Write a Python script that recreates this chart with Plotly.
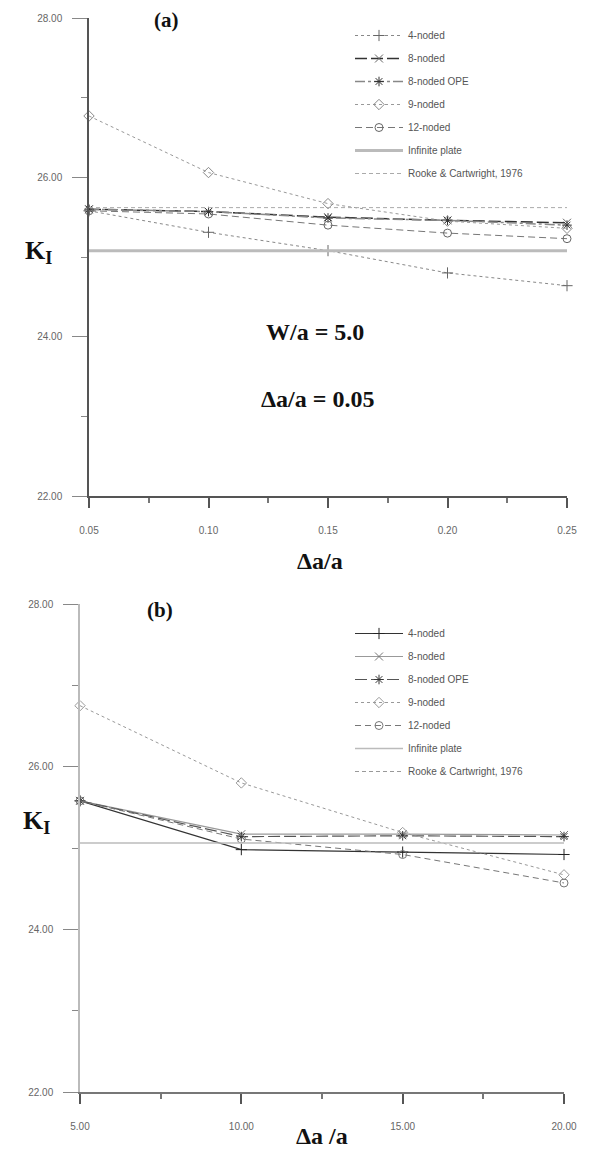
import plotly.graph_objects as go

W, H = 589, 1162

names = ["4-noded", "8-noded", "8-noded OPE", "9-noded", "12-noded",
         "Infinite plate", "Rooke & Cartwright, 1976"]

# ---- panel (a) ----
xa = [0.05, 0.10, 0.15, 0.20, 0.25]
a_4 = [25.58, 25.31, 25.08, 24.80, 24.64]
a_8 = [25.60, 25.57, 25.50, 25.46, 25.43]
a_8ope = [25.60, 25.57, 25.49, 25.46, 25.40]
a_9 = [26.77, 26.06, 25.67, 25.45, 25.36]
a_12 = [25.58, 25.54, 25.40, 25.30, 25.23]
a_inf = [25.08, 25.08]
a_rooke = [25.62, 25.62]
xa_ends = [0.05, 0.25]
xa_ticks = [0.05, 0.10, 0.15, 0.20, 0.25]
xa_ticktext = ["0.05", "0.10", "0.15", "0.20", "0.25"]

# ---- panel (b) ----
xb = [5, 10, 15, 20]
b_4 = [25.58, 24.98, 24.95, 24.92]
b_8 = [25.58, 25.17, 25.17, 25.16]
b_8ope = [25.58, 25.14, 25.15, 25.14]
b_9 = [26.75, 25.80, 25.19, 24.67]
b_12 = [25.58, 25.11, 24.92, 24.57]
b_inf = [25.06, 25.06]
b_rooke = [None, None]
xb_ends = [5, 20]
xb_ticks = [5, 10, 15, 20]
xb_ticktext = ["5.00", "10.00", "15.00", "20.00"]

y_ticks = [22, 24, 26, 28]
y_ticktext = ["22.00", "24.00", "26.00", "28.00"]


def px(x):
    return x / W


def py(y):
    return 1 - y / H


fig = go.Figure()

styles_a = [
    dict(color="#888", dash="3px,3px", width=1, symbol="cross-thin-open", mc="#666"),
    dict(color="#333", dash="12px,4px", width=1.5, symbol="x-thin-open", mc="#666"),
    dict(color="#888", dash="10px,3px,3px,3px", width=1.5, symbol="asterisk-open", mc="#333"),
    dict(color="#999", dash="3px,3px", width=1, symbol="diamond-open", mc="#888"),
    dict(color="#777", dash="7px,4px", width=1, symbol="circle-open", mc="#666"),
]
styles_b = [
    dict(color="#333", dash="solid", width=1.2, symbol="cross-thin-open", mc="#222"),
    dict(color="#999", dash="solid", width=1.2, symbol="x-thin-open", mc="#777"),
    dict(color="#555", dash="12px,4px", width=1.2, symbol="asterisk-open", mc="#333"),
    dict(color="#999", dash="3px,3px", width=1, symbol="diamond-open", mc="#999"),
    dict(color="#777", dash="6px,4px", width=1, symbol="circle-open", mc="#777"),
]

for i, ys in enumerate([a_4, a_8, a_8ope, a_9, a_12]):
    s = styles_a[i]
    fig.add_trace(go.Scatter(
        x=xa, y=ys, name=names[i], mode="lines+markers", cliponaxis=False,
        legendgroup="a%d" % i,
        line=dict(color=s["color"], dash=s["dash"], width=s["width"]),
        marker=dict(symbol=s["symbol"], size=8, color=s["mc"],
                    line=dict(color=s["mc"], width=1)),
        xaxis="x", yaxis="y", legend="legend"))
fig.add_trace(go.Scatter(x=xa_ends, y=a_inf, name=names[5], mode="lines",
                         legendgroup="a5",
                         line=dict(color="#bbb", width=3),
                         xaxis="x", yaxis="y", legend="legend"))
fig.add_trace(go.Scatter(x=xa_ends, y=a_rooke, name=names[6], mode="lines",
                         legendgroup="a6",
                         line=dict(color="#aaa", width=1, dash="4px,3px"),
                         xaxis="x", yaxis="y", legend="legend"))

for i, ys in enumerate([b_4, b_8, b_8ope, b_9, b_12]):
    s = styles_b[i]
    fig.add_trace(go.Scatter(
        x=xb, y=ys, name=names[i], mode="lines+markers", cliponaxis=False,
        legendgroup="b%d" % i,
        line=dict(color=s["color"], dash=s["dash"], width=s["width"]),
        marker=dict(symbol=s["symbol"], size=8, color=s["mc"],
                    line=dict(color=s["mc"], width=1)),
        xaxis="x2", yaxis="y2", legend="legend2"))
fig.add_trace(go.Scatter(x=xb_ends, y=b_inf, name=names[5], mode="lines",
                         legendgroup="b5",
                         line=dict(color="#bbb", width=1.5),
                         xaxis="x2", yaxis="y2", legend="legend2"))
fig.add_trace(go.Scatter(x=xb_ends, y=b_rooke, name=names[6], mode="lines",
                         legendgroup="b6",
                         line=dict(color="#999", width=1, dash="4px,3px"),
                         xaxis="x2", yaxis="y2", legend="legend2"))

tickfont = dict(family="Arial, Liberation Sans", size=10, color="#666")

common_x = dict(showgrid=False, zeroline=False, showline=True, linewidth=1.5,
                ticks="outside", ticklen=10, tickwidth=1.5, tickcolor="#555",
                tickfont=tickfont, ticklabelstandoff=14, automargin=False)
common_y = dict(showgrid=False, zeroline=False, showline=True, linewidth=1.5,
                range=[22, 28], tickvals=y_ticks, ticktext=y_ticktext,
                ticks="outside", ticklen=15, tickwidth=1, tickcolor="#888",
                tickfont=tickfont, ticklabelstandoff=8, automargin=False,
                minor=dict(tickvals=[23, 25, 27], ticks="outside", ticklen=6,
                           tickcolor="#888"))

legend_common = dict(xanchor="left", yanchor="top", bgcolor="rgba(0,0,0,0)",
                     tracegroupgap=4, itemwidth=48,
                     font=dict(family="Arial, Liberation Sans", size=10, color="#555"))

fig.update_layout(
    width=W, height=H, margin=dict(l=0, r=0, t=0, b=0, autoexpand=False),
    paper_bgcolor="white", plot_bgcolor="white",
    showlegend=True,
    xaxis=dict(domain=[px(89), px(567)], range=[0.05, 0.25],
               tickvals=xa_ticks, ticktext=xa_ticktext, linecolor="#555",
               minor=dict(tickvals=[0.075, 0.125, 0.175, 0.225], ticks="outside",
                          ticklen=5, tickcolor="#777"),
               anchor="y", **common_x),
    yaxis=dict(domain=[py(496), py(18)], anchor="x", linecolor="#555", **common_y),
    xaxis2=dict(domain=[px(80), px(564)], range=[5, 20],
                tickvals=xb_ticks, ticktext=xb_ticktext, linecolor="#777",
                minor=dict(tickvals=[7.5, 12.5, 17.5], ticks="outside",
                           ticklen=5, tickcolor="#777"),
                anchor="y2", **common_x),
    yaxis2=dict(domain=[py(1092), py(604)], anchor="x2", linecolor="#bbb", **common_y),
    legend=dict(x=px(350), y=py(21), **legend_common),
    legend2=dict(x=px(350), y=py(619), **legend_common),
)

serif = "Liberation Serif, Times New Roman, serif"
ann = [
    dict(x=px(166), y=py(20), text="<b>(a)</b>", size=21),
    dict(x=px(160), y=py(610), text="<b>(b)</b>", size=21),
    dict(x=px(38), y=py(252), text="<b>K<sub>I</sub></b>", size=26),
    dict(x=px(36), y=py(822), text="<b>K<sub>I</sub></b>", size=26),
    dict(x=px(315), y=py(332), text="<b>W/a = 5.0</b>", size=24),
    dict(x=px(317), y=py(399), text="<b>Δa/a = 0.05</b>", size=24),
    dict(x=px(320), y=py(561), text="<b>Δa/a</b>", size=24),
    dict(x=px(322), y=py(1136), text="<b>Δa /a</b>", size=24),
]
for a in ann:
    fig.add_annotation(x=a["x"], y=a["y"], xref="paper", yref="paper",
                       text=a["text"], showarrow=False, xanchor="center",
                       yanchor="middle",
                       font=dict(family=serif, size=a["size"], color="#111"))

fig.write_html("out.html", config={"displayModeBar": False},
               post_script="document.body.style.margin='0';")
